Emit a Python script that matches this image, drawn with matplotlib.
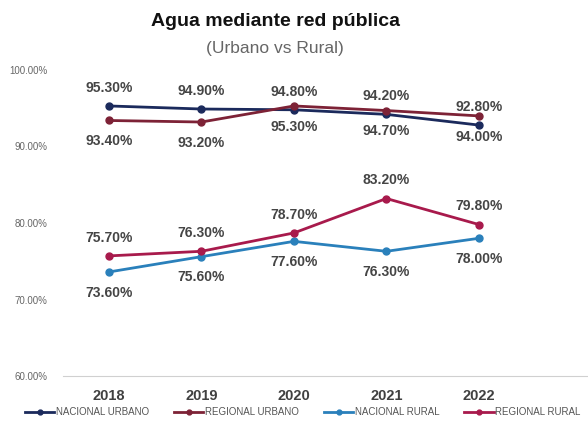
import matplotlib.pyplot as plt
import numpy as np

plt.rcParams['font.family'] = ['Liberation Sans', 'DejaVu Sans']

years = ["2018", "2019", "2020", "2021", "2022"]
nacional_urbano = [95.3, 94.9, 94.8, 94.2, 92.8]
regional_urbano = [93.4, 93.2, 95.3, 94.7, 94.0]
nacional_rural = [73.6, 75.6, 77.6, 76.3, 78.0]
regional_rural = [75.7, 76.3, 78.7, 83.2, 79.8]

series = [
    ("NACIONAL URBANO", nacional_urbano, "#1b2a5c", "above"),
    ("REGIONAL URBANO", regional_urbano, "#7d2236", "below"),
    ("NACIONAL RURAL", nacional_rural, "#2a80bb", "below"),
    ("REGIONAL RURAL", regional_rural, "#a81a4c", "above"),
]

fig = plt.figure(figsize=(5.88, 4.21), dpi=100)
ax = fig.add_axes([63 / 588, 1 - 376 / 421, 1 - 63 / 588, (376 - 70) / 421])

x = np.arange(len(years))
for name, vals, color, pos in series:
    ax.plot(x, vals, color=color, lw=2, marker="o", ms=5, label=name,
            clip_on=False)
    for xi, v in zip(x, vals):
        dy = 13 if pos == "above" else -15
        ax.annotate(f"{v:.2f}%", (xi, v), xytext=(0, dy),
                    textcoords="offset points", ha="center", va="center",
                    fontsize=10, fontweight="bold", color="#454545")

ax.set_ylim(60, 100)
ax.set_xlim(-0.497, 5.18)
ax.set_yticks([60, 70, 80, 90, 100])
ax.set_yticklabels([f"{t:.2f}%" for t in [60, 70, 80, 90, 100]])
ax.set_xticks(x)
ax.set_xticklabels(years)
ax.tick_params(axis="y", length=0, pad=11, labelsize=7, labelcolor="#666666")
ax.tick_params(axis="x", length=0, pad=9, labelsize=10.5, labelcolor="#404040")
for lbl in ax.get_xticklabels():
    lbl.set_fontweight("bold")
for s in ["top", "right", "left"]:
    ax.spines[s].set_visible(False)
ax.spines["bottom"].set_color("#d0d0d0")

fig.text(0.468, 1 - 22 / 421, "Agua mediante red pública", ha="center",
         va="center", fontsize=14, fontweight="bold", color="#111111")
fig.text(0.468, 1 - 48 / 421, "(Urbano vs Rural)", ha="center",
         va="center", fontsize=12.5, color="#666666")

fig.legend(loc="center", bbox_to_anchor=(0.515, 1 - 412 / 421), ncol=4,
           frameon=False, fontsize=7, handlelength=3, columnspacing=2.6,
           handletextpad=0.15, markerscale=0.7, labelcolor="#555555")

fig.savefig("out.png", dpi=100)
